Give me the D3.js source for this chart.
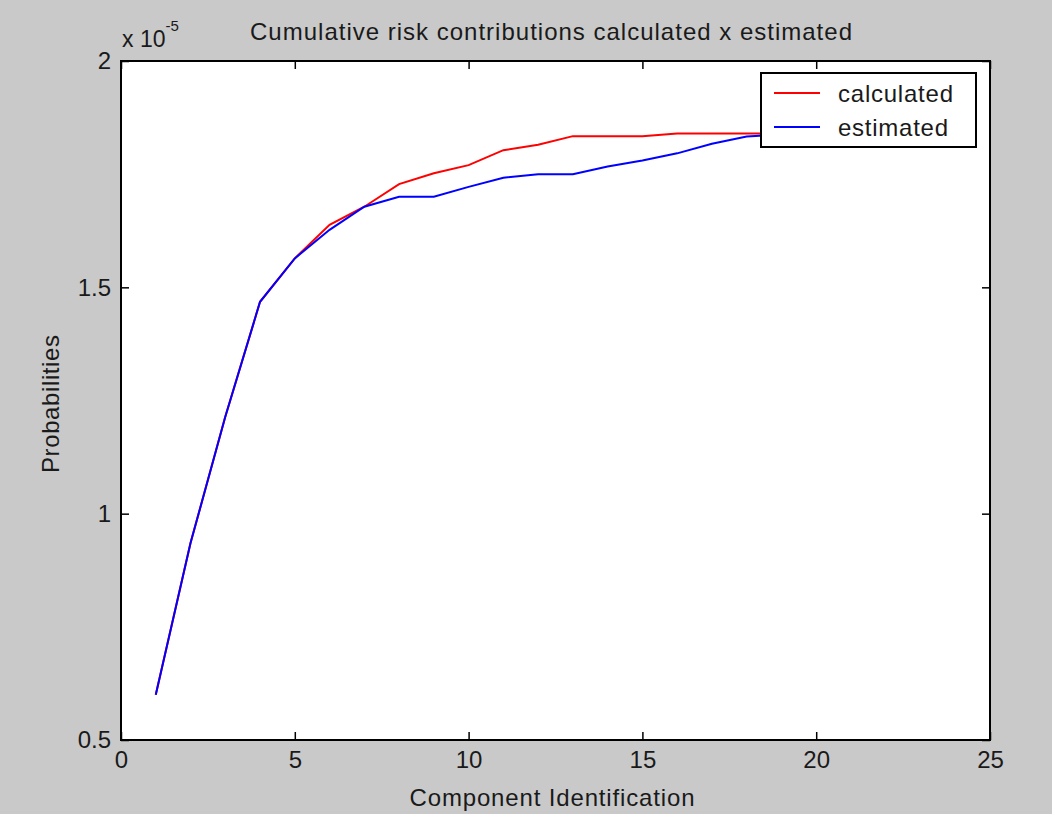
<!DOCTYPE html>
<html>
<head>
<meta charset="utf-8">
<script src="https://cdn.jsdelivr.net/npm/d3@7"></script>
<style>
  body { margin: 0; background: #c9c9c9; }
  svg { display: block; }
  text { font-family: "Liberation Sans", Arial, sans-serif; fill: #1a1a1a; }
</style>
</head>
<body>
<script>
// component ids and cumulative probabilities (x 1e-5)
var componentIds = [1, 2, 3, 4, 5, 6, 7, 8, 9, 10, 11, 12, 13, 14, 15, 16, 17, 18, 19, 20];
var calculated = [0.600, 0.935, 1.214, 1.468, 1.564, 1.638, 1.678, 1.728, 1.752, 1.770,
                  1.803, 1.815, 1.834, 1.834, 1.834, 1.840, 1.840, 1.840, 1.840, 1.840];
var estimated  = [0.600, 0.935, 1.214, 1.468, 1.564, 1.627, 1.678, 1.700, 1.700, 1.722,
                  1.742, 1.750, 1.750, 1.767, 1.780, 1.796, 1.817, 1.833, 1.838, 1.840];
var xTicks = [0, 5, 10, 15, 20, 25];
var yTicks = [0.5, 1, 1.5, 2];
var seriesNames = ["calculated", "estimated"];
var seriesColors = ["#ff0000", "#0000ff"];

var breedte = 1052, hoogte = 814;
var marge = {boven: 61, links: 121, rechts: 62, beneden: 74};
var w = breedte - marge.links - marge.rechts;
var h = hoogte - marge.boven - marge.beneden;

var svg = d3.select("body").append("svg")
    .attr("width", breedte)
    .attr("height", hoogte);

var x = d3.scaleLinear().domain([0, 25]).range([0, w]);
var y = d3.scaleLinear().domain([0.5, 2]).range([h, 0]);

var g = svg.append("g")
    .attr("transform", "translate(" + marge.links + "," + marge.boven + ")");

// witte plotruimte
g.append("rect")
    .attr("width", w)
    .attr("height", h)
    .attr("fill", "#fff");

// lijnen
var lijn = d3.line()
    .x(function(d) { return x(d[0]); })
    .y(function(d) { return y(d[1]); });

[calculated, estimated].forEach(function(reeks, i) {
  g.append("path")
      .datum(componentIds.map(function(id, j) { return [id, reeks[j]]; }))
      .attr("fill", "none")
      .attr("stroke", seriesColors[i])
      .attr("stroke-width", 2)
      .attr("d", lijn);
});

// assen met ticks naar binnen
function assen(sel) {
  sel.selectAll(".domain").remove();
  sel.selectAll("line").attr("stroke", "#000").attr("stroke-width", 1.5);
  sel.selectAll("text").style("font-size", "24px").attr("fill", "#1a1a1a");
}

g.append("g")
    .attr("transform", "translate(0," + h + ")")
    .call(d3.axisBottom(x).tickValues(xTicks).tickSizeInner(-8).tickSizeOuter(0).tickPadding(11))
    .call(assen);
g.append("g")
    .call(d3.axisTop(x).tickValues(xTicks).tickSizeInner(-8).tickSizeOuter(0).tickFormat(""))
    .call(assen);
g.append("g")
    .call(d3.axisLeft(y).tickValues(yTicks).tickSizeInner(-8).tickSizeOuter(0).tickPadding(10)
      .tickFormat(function(d) { return String(d); }))
    .call(assen);
g.append("g")
    .attr("transform", "translate(" + w + ",0)")
    .call(d3.axisRight(y).tickValues(yTicks).tickSizeInner(-8).tickSizeOuter(0).tickFormat(""))
    .call(assen);

// kader
g.append("rect")
    .attr("width", w)
    .attr("height", h)
    .attr("fill", "none")
    .attr("stroke", "#000")
    .attr("stroke-width", 2);

// exponent
var expo = svg.append("text")
    .attr("x", marge.links + 1)
    .attr("y", 47)
    .style("font-size", "23px");
expo.append("tspan").text("x 10");
expo.append("tspan").attr("dy", -16).style("font-size", "15px").text("-5");

// titel
svg.append("text")
    .attr("x", 551)
    .attr("y", 40)
    .attr("text-anchor", "middle")
    .attr("textLength", 602)
    .style("font-size", "24px")
    .text("Cumulative risk contributions calculated x estimated");

// x-as titel
svg.append("text")
    .attr("x", 552)
    .attr("y", 806)
    .attr("text-anchor", "middle")
    .attr("textLength", 285)
    .style("font-size", "24px")
    .text("Component Identification");

// y-as titel
svg.append("text")
    .attr("transform", "translate(59," + 404 + ") rotate(-90)")
    .attr("text-anchor", "middle")
    .attr("textLength", 138)
    .style("font-size", "24px")
    .text("Probabilities");

// legenda
var legenda = svg.append("g").attr("transform", "translate(761,73)");
legenda.append("rect")
    .attr("width", 215)
    .attr("height", 74)
    .attr("fill", "#fff")
    .attr("stroke", "#000")
    .attr("stroke-width", 2);
var legendaBreedte = [115, 110];
seriesNames.forEach(function(naam, i) {
  var ly = 20 + i * 34;
  legenda.append("line")
      .attr("x1", 13).attr("x2", 59)
      .attr("y1", ly).attr("y2", ly)
      .attr("stroke", seriesColors[i])
      .attr("stroke-width", 2);
  legenda.append("text")
      .attr("x", 77)
      .attr("y", ly + 9)
      .attr("textLength", legendaBreedte[i])
      .style("font-size", "24px")
      .text(naam);
});
</script>
</body>
</html>
